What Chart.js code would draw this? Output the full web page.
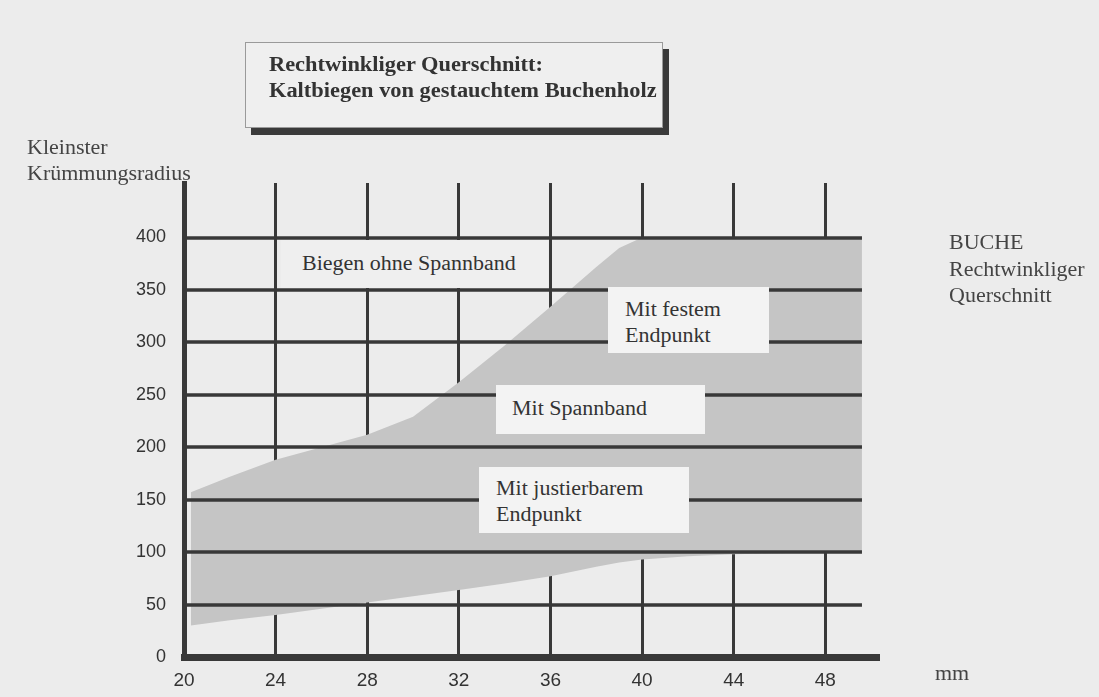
<!DOCTYPE html>
<html><head><meta charset="utf-8">
<script src="https://cdn.jsdelivr.net/npm/chart.js@4/dist/chart.umd.min.js"></script>
<style>
html,body{margin:0;padding:0;background:#ececec;}
#wrap{position:relative;width:1099px;height:697px;overflow:hidden;background:#ececec;}
canvas{position:absolute;left:0;top:0;}
.t{position:absolute;font-family:"Liberation Serif","Times New Roman",serif;color:#333;font-size:20px;line-height:26px;white-space:nowrap;transform:scaleX(1.1);transform-origin:0 0;}
.box{position:absolute;background:#f3f3f3;}
#titlebox{position:absolute;left:245px;top:42px;width:416px;height:84px;background:#efefef;border:1px solid #9a9a9a;box-shadow:6px 7px 0 #3a3a3a;}
</style></head>
<body>
<div id="wrap">
<canvas id="c" width="1099" height="697"></canvas>
<div id="titlebox"></div>
<div class="t" style="left:269px;top:51px;font-weight:bold;transform:scaleX(1.12);">Rechtwinkliger Querschnitt:<br>Kaltbiegen von gestauchtem Buchenholz</div>
<div class="t" style="left:27px;top:134px;color:#444;">Kleinster<br>Krümmungsradius</div>
<div class="t" style="left:949px;top:229px;line-height:26.5px;color:#444;">BUCHE<br>Rechtwinkliger<br>Querschnitt</div>
<div class="t" style="left:935px;top:660px;color:#444;">mm</div>

<div class="box" style="left:281px;top:240px;width:267px;height:48px;background:#efefef;"></div>
<div class="t" style="left:302px;top:250px;">Biegen ohne Spannband</div>

<div class="box" style="left:608px;top:287px;width:161px;height:66px;"></div>
<div class="t" style="left:625px;top:296px;">Mit festem<br>Endpunkt</div>

<div class="box" style="left:496px;top:385px;width:209px;height:49px;"></div>
<div class="t" style="left:512px;top:395px;">Mit Spannband</div>

<div class="box" style="left:479px;top:467px;width:210px;height:66px;"></div>
<div class="t" style="left:496px;top:475px;">Mit justierbarem<br>Endpunkt</div>
</div>
<script>
// ---- data ----
const xTicks = [20, 24, 28, 32, 36, 40, 44, 48];
const yTicks = [0, 50, 100, 150, 200, 250, 300, 350, 400];
const bandX  = [20.3, 22, 24, 26, 28, 30, 32, 34, 36, 38, 39, 40, 42, 44, 46, 48, 49.6];
const upperRadius = [157, 172, 188, 200, 212, 229, 262, 297, 334, 372, 390, 400, 400, 400, 400, 400, 400];
const lowerRadius = [30, 35, 40, 46, 52, 58, 64, 70, 77, 86, 90, 93, 96, 98, 99, 100, 100];
const gridEndX = 49.6;

const lineColor = '#383838';
const bandColor = '#c5c5c5';

const toPts = (xs, ys) => xs.map((x, i) => ({x: x, y: ys[i]}));

const hGrid = {
  id: 'hGrid',
  afterDatasetsDraw(chart) {
    const {ctx, scales: {x, y}} = chart;
    ctx.save();
    ctx.strokeStyle = lineColor;
    ctx.lineWidth = 3.5;
    const x0 = x.getPixelForValue(xTicks[0]);
    const x1 = x.getPixelForValue(gridEndX);
    yTicks.forEach(v => {
      if (v === 0) return;
      const py = Math.round(y.getPixelForValue(v));
      ctx.beginPath();
      ctx.moveTo(x0, py);
      ctx.lineTo(x1, py);
      ctx.stroke();
    });
    ctx.restore();
  }
};

new Chart(document.getElementById('c'), {
  type: 'line',
  data: {
    datasets: [
      {label: 'untere Grenze', data: toPts(bandX, lowerRadius), borderWidth: 0, pointRadius: 0, fill: false, tension: 0, borderColor: 'rgba(0,0,0,0)'},
      {label: 'obere Grenze', data: toPts(bandX, upperRadius), borderWidth: 0, pointRadius: 0, fill: '-1', tension: 0, borderColor: 'rgba(0,0,0,0)', backgroundColor: bandColor}
    ]
  },
  options: {
    responsive: false,
    animation: false,
    devicePixelRatio: 1,
    layout: {padding: {top: 183, right: 221, left: 0, bottom: 0}},
    plugins: {legend: {display: false}, tooltip: {enabled: false}, title: {display: false}},
    scales: {
      x: {
        type: 'linear', min: 20, max: 50.3, z: 1,
        afterBuildTicks: s => { s.ticks = xTicks.map(v => ({value: v})); },
        afterFit: s => { s.height = 40; },
        grid: {display: true, color: lineColor, lineWidth: 3, drawTicks: false},
        border: {display: true, color: lineColor, width: 7},
        ticks: {padding: 12, color: '#333', font: {family: '"Liberation Sans", Arial, sans-serif', size: 19}, maxRotation: 0, autoSkip: false}
      },
      y: {
        type: 'linear', min: 0, max: 452, z: 1,
        afterBuildTicks: s => { s.ticks = yTicks.map(v => ({value: v})); },
        afterFit: s => { s.width = 184; },
        grid: {display: false, drawTicks: false},
        border: {display: true, color: lineColor, width: 5},
        ticks: {padding: 18, color: '#333', font: {family: '"Liberation Sans", Arial, sans-serif', size: 18}, autoSkip: false}
      }
    }
  },
  plugins: [hGrid]
});
</script>
</body></html>
